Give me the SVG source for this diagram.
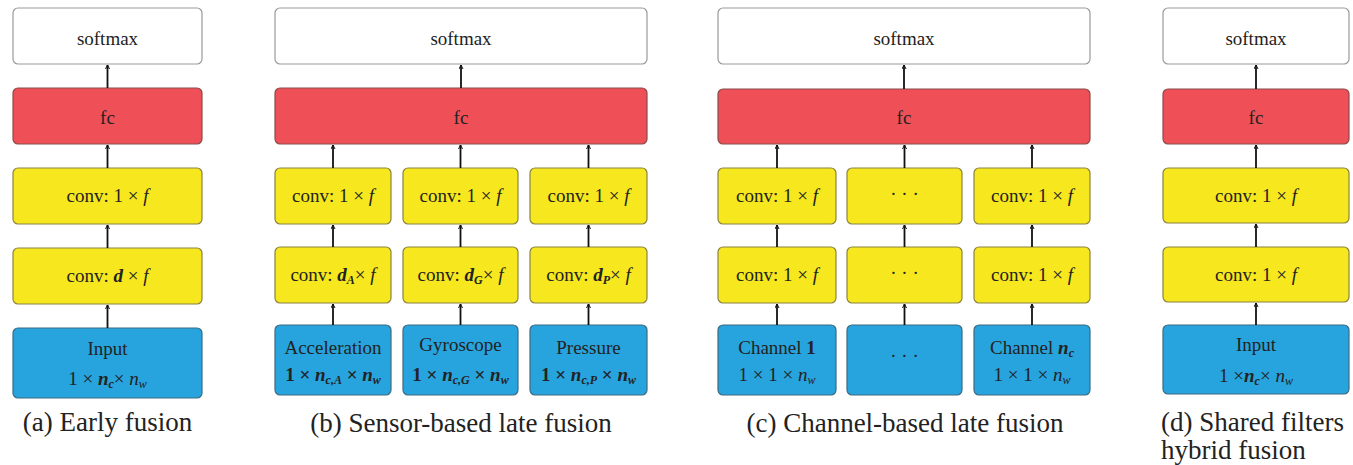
<svg xmlns="http://www.w3.org/2000/svg" width="1353" height="465" viewBox="0 0 1353 465">
<style>
.b{stroke-width:1.2}
.sm{fill:#ffffff;stroke:#9a9a9a}
.fc{fill:#EF5057;stroke:#8a4a4a}
.cv{fill:#F6E71E;stroke:#8a8440}
.in{fill:#27A4DE;stroke:#3d6a80}
.t{font-family:"Liberation Serif","DejaVu Serif",serif;font-size:19px;fill:#222;text-anchor:middle}
.cap{font-family:"Liberation Serif","DejaVu Serif",serif;font-size:27px;fill:#222}
.bi{font-weight:bold;font-style:italic}
.i{font-style:italic}
.sub{font-size:12px}
.c line{stroke:#111;stroke-width:1.8}
</style>
<defs>
<marker id="ah" viewBox="0 0 10 10" refX="9" refY="5" markerWidth="5" markerHeight="5" orient="auto" markerUnits="userSpaceOnUse">
<path d="M1,1 L9,5 L1,9" fill="none" stroke="#111" stroke-width="2"/>
</marker>
</defs>

<!-- Panel a -->
<g id="a-softmax"><rect class="b sm" x="13" y="8" width="189" height="56" rx="5"/><text class="t" x="107.5" y="45">softmax</text></g>
<g id="a-fc"><rect class="b fc" x="13" y="88" width="189" height="56" rx="5"/><text class="t" x="107.5" y="124">fc</text></g>
<g id="a-conv1"><rect class="b cv" x="13" y="168" width="189" height="56" rx="5"/><text class="t" x="107.5" y="202">conv:  1 × <tspan class="i">f</tspan></text></g>
<g id="a-conv2"><rect class="b cv" x="13" y="248" width="189" height="56" rx="5"/><text class="t" x="107.5" y="282">conv:  <tspan class="bi">d</tspan> × <tspan class="i">f</tspan></text></g>
<g id="a-input"><rect class="b in" x="13" y="328" width="189" height="70" rx="5"/><text class="t" x="107.5" y="355">Input</text><text class="t" x="107.5" y="385">1 × <tspan class="bi">n</tspan><tspan class="bi sub" dy="3">c</tspan><tspan dy="-3">× </tspan><tspan class="i">n</tspan><tspan class="i sub" dy="3">w</tspan></text></g>
<text class="cap" x="107.5" y="431" text-anchor="middle">(a)  Early fusion</text>

<!-- Panel b -->
<g id="b-softmax"><rect class="b sm" x="275" y="8" width="372" height="56" rx="5"/><text class="t" x="461" y="45">softmax</text></g>
<g id="b-fc"><rect class="b fc" x="275" y="88" width="372" height="56" rx="5"/><text class="t" x="461" y="124">fc</text></g>
<g id="b-conv1-A"><rect class="b cv" x="275" y="168" width="116" height="56" rx="5"/><text class="t" x="333" y="202">conv:  1 × <tspan class="i">f</tspan></text></g>
<g id="b-conv1-G"><rect class="b cv" x="403" y="168" width="115" height="56" rx="5"/><text class="t" x="460.5" y="202">conv:  1 × <tspan class="i">f</tspan></text></g>
<g id="b-conv1-P"><rect class="b cv" x="530" y="168" width="117" height="56" rx="5"/><text class="t" x="588.5" y="202">conv:  1 × <tspan class="i">f</tspan></text></g>
<g id="b-conv2-A"><rect class="b cv" x="275" y="247" width="116" height="56" rx="5"/><text class="t" x="333" y="281">conv: <tspan class="bi">d</tspan><tspan class="bi sub" dy="3">A</tspan><tspan dy="-3">× </tspan><tspan class="i">f</tspan></text></g>
<g id="b-conv2-G"><rect class="b cv" x="403" y="247" width="115" height="56" rx="5"/><text class="t" x="460.5" y="281">conv: <tspan class="bi">d</tspan><tspan class="bi sub" dy="3">G</tspan><tspan dy="-3">× </tspan><tspan class="i">f</tspan></text></g>
<g id="b-conv2-P"><rect class="b cv" x="530" y="247" width="117" height="56" rx="5"/><text class="t" x="588.5" y="281">conv: <tspan class="bi">d</tspan><tspan class="bi sub" dy="3">P</tspan><tspan dy="-3">× </tspan><tspan class="i">f</tspan></text></g>
<g id="b-input-A"><rect class="b in" x="275" y="325" width="116" height="70" rx="5"/><text class="t" x="333" y="354">Acceleration</text><text class="t" x="333" y="381" font-weight="bold">1 × <tspan class="bi">n</tspan><tspan class="bi sub" dy="3">c,A</tspan><tspan dy="-3"> × </tspan><tspan class="bi">n</tspan><tspan class="bi sub" dy="3">w</tspan></text></g>
<g id="b-input-G"><rect class="b in" x="403" y="325" width="115" height="70" rx="5"/><text class="t" x="460.5" y="351">Gyroscope</text><text class="t" x="460.5" y="381" font-weight="bold">1 × <tspan class="bi">n</tspan><tspan class="bi sub" dy="3">c,G</tspan><tspan dy="-3"> × </tspan><tspan class="bi">n</tspan><tspan class="bi sub" dy="3">w</tspan></text></g>
<g id="b-input-P"><rect class="b in" x="530" y="325" width="117" height="70" rx="5"/><text class="t" x="588.5" y="354">Pressure</text><text class="t" x="588.5" y="381" font-weight="bold">1 × <tspan class="bi">n</tspan><tspan class="bi sub" dy="3">c,P</tspan><tspan dy="-3"> × </tspan><tspan class="bi">n</tspan><tspan class="bi sub" dy="3">w</tspan></text></g>
<text class="cap" x="461" y="432" text-anchor="middle">(b)  Sensor-based late fusion</text>

<!-- Panel c -->
<g id="c-softmax"><rect class="b sm" x="718" y="8" width="372" height="56" rx="5"/><text class="t" x="904" y="45">softmax</text></g>
<g id="c-fc"><rect class="b fc" x="718" y="89" width="372" height="55" rx="5"/><text class="t" x="904" y="124">fc</text></g>
<g id="c-conv1-1"><rect class="b cv" x="718" y="168" width="118" height="56" rx="5"/><text class="t" x="777" y="202">conv:  1 × <tspan class="i">f</tspan></text></g>
<g id="c-conv1-dots"><rect class="b cv" x="847" y="168" width="115" height="56" rx="5"/><text class="t" x="904.5" y="200">· · ·</text></g>
<g id="c-conv1-n"><rect class="b cv" x="974" y="168" width="116" height="56" rx="5"/><text class="t" x="1032" y="202">conv:  1 × <tspan class="i">f</tspan></text></g>
<g id="c-conv2-1"><rect class="b cv" x="718" y="247" width="118" height="56" rx="5"/><text class="t" x="777" y="281">conv:  1 × <tspan class="i">f</tspan></text></g>
<g id="c-conv2-dots"><rect class="b cv" x="847" y="247" width="115" height="56" rx="5"/><text class="t" x="904.5" y="279">· · ·</text></g>
<g id="c-conv2-n"><rect class="b cv" x="974" y="247" width="116" height="56" rx="5"/><text class="t" x="1032" y="281">conv:  1 × <tspan class="i">f</tspan></text></g>
<g id="c-input-1"><rect class="b in" x="718" y="325" width="118" height="70" rx="5"/><text class="t" x="777" y="354">Channel <tspan font-weight="bold">1</tspan></text><text class="t" x="777" y="381">1 × 1 × <tspan class="i">n</tspan><tspan class="i sub" dy="3">w</tspan></text></g>
<g id="c-input-dots"><rect class="b in" x="847" y="325" width="115" height="70" rx="5"/><text class="t" x="904.5" y="362">· · ·</text></g>
<g id="c-input-n"><rect class="b in" x="974" y="325" width="116" height="70" rx="5"/><text class="t" x="1032" y="354">Channel <tspan class="bi">n</tspan><tspan class="bi sub" dy="3">c</tspan></text><text class="t" x="1032" y="381">1 × 1 × <tspan class="i">n</tspan><tspan class="i sub" dy="3">w</tspan></text></g>
<text class="cap" x="905" y="432" text-anchor="middle">(c)  Channel-based late fusion</text>

<!-- Panel d -->
<g id="d-softmax"><rect class="b sm" x="1163" y="8" width="186" height="56" rx="5"/><text class="t" x="1256" y="45">softmax</text></g>
<g id="d-fc"><rect class="b fc" x="1163" y="89" width="186" height="55" rx="5"/><text class="t" x="1256" y="124">fc</text></g>
<g id="d-conv1"><rect class="b cv" x="1163" y="168" width="186" height="55" rx="5"/><text class="t" x="1256" y="202">conv:  1 × <tspan class="i">f</tspan></text></g>
<g id="d-conv2"><rect class="b cv" x="1163" y="247" width="186" height="55" rx="5"/><text class="t" x="1256" y="281">conv:  1 × <tspan class="i">f</tspan></text></g>
<g id="d-input"><rect class="b in" x="1163" y="325" width="186" height="69" rx="5"/><text class="t" x="1256" y="351">Input</text><text class="t" x="1256" y="382">1 ×<tspan class="bi">n</tspan><tspan class="bi sub" dy="3">c</tspan><tspan dy="-3">× </tspan><tspan class="i">n</tspan><tspan class="i sub" dy="3">w</tspan></text></g>
<text class="cap" x="1161" y="431">(d)  Shared filters</text>
<text class="cap" x="1161" y="459">hybrid fusion</text>

<!-- Connectors -->
<g id="connectors" class="c">
<line x1="107.5" y1="88" x2="107.5" y2="65" marker-end="url(#ah)"/>
<line x1="107.5" y1="168" x2="107.5" y2="145" marker-end="url(#ah)"/>
<line x1="107.5" y1="248" x2="107.5" y2="225" marker-end="url(#ah)"/>
<line x1="107.5" y1="328" x2="107.5" y2="305" marker-end="url(#ah)"/>

<line x1="461" y1="88" x2="461" y2="65" marker-end="url(#ah)"/>
<line x1="333" y1="168" x2="333" y2="145" marker-end="url(#ah)"/>
<line x1="460.5" y1="168" x2="460.5" y2="145" marker-end="url(#ah)"/>
<line x1="588.5" y1="168" x2="588.5" y2="145" marker-end="url(#ah)"/>
<line x1="333" y1="247" x2="333" y2="225" marker-end="url(#ah)"/>
<line x1="460.5" y1="247" x2="460.5" y2="225" marker-end="url(#ah)"/>
<line x1="588.5" y1="247" x2="588.5" y2="225" marker-end="url(#ah)"/>
<line x1="333" y1="325" x2="333" y2="304" marker-end="url(#ah)"/>
<line x1="460.5" y1="325" x2="460.5" y2="304" marker-end="url(#ah)"/>
<line x1="588.5" y1="325" x2="588.5" y2="304" marker-end="url(#ah)"/>

<line x1="904" y1="89" x2="904" y2="65" marker-end="url(#ah)"/>
<line x1="777" y1="168" x2="777" y2="145" marker-end="url(#ah)"/>
<line x1="904.5" y1="168" x2="904.5" y2="145" marker-end="url(#ah)"/>
<line x1="1032" y1="168" x2="1032" y2="145" marker-end="url(#ah)"/>
<line x1="777" y1="247" x2="777" y2="225" marker-end="url(#ah)"/>
<line x1="904.5" y1="247" x2="904.5" y2="225" marker-end="url(#ah)"/>
<line x1="1032" y1="247" x2="1032" y2="225" marker-end="url(#ah)"/>
<line x1="777" y1="325" x2="777" y2="304" marker-end="url(#ah)"/>
<line x1="904.5" y1="325" x2="904.5" y2="304" marker-end="url(#ah)"/>
<line x1="1032" y1="325" x2="1032" y2="304" marker-end="url(#ah)"/>

<line x1="1256" y1="89" x2="1256" y2="65" marker-end="url(#ah)"/>
<line x1="1256" y1="168" x2="1256" y2="145" marker-end="url(#ah)"/>
<line x1="1256" y1="247" x2="1256" y2="224" marker-end="url(#ah)"/>
<line x1="1256" y1="325" x2="1256" y2="303" marker-end="url(#ah)"/>
</g>
</svg>
